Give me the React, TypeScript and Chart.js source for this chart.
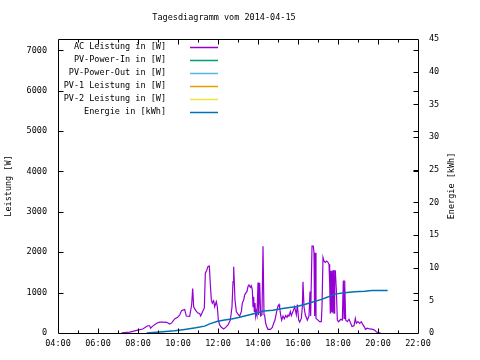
import { useEffect, useRef } from 'react';
import { Chart, registerables } from 'chart.js';

Chart.register(...registerables);

const chartTitle = 'Tagesdiagramm vom 2014-04-15';
const leftAxisTitle = 'Leistung [W]';
const rightAxisTitle = 'Energie [kWh]';

const seriesLabels = [
  'AC Leistung in [W]',
  'PV-Power-In in [W]',
  'PV-Power-Out in [W]',
  'PV-1 Leistung in [W]',
  'PV-2 Leistung in [W]',
  'Energie in [kWh]',
];
const seriesColors = ['#9400d3', '#009e73', '#56b4e9', '#e69f00', '#f0e442', '#0072b2'];

const xTickLabels = ['04:00', '06:00', '08:00', '10:00', '12:00', '14:00', '16:00', '18:00', '20:00', '22:00'];
const leftTicks = [0, 1000, 2000, 3000, 4000, 5000, 6000, 7000];
const rightTicks = [0, 5, 10, 15, 20, 25, 30, 35, 40, 45];
const xMinHour = 4;
const xMaxHour = 22;
const leftMax = 7280;
const rightMax = 45;

const acTimes = [
  '07:11', '07:35', '07:59', '08:14', '08:20', '08:29', '08:35', '08:38', '08:44', '08:56',
  '09:05', '09:14', '09:26', '09:35', '09:41', '09:50', '09:59', '10:05', '10:11', '10:20',
  '10:25', '10:35', '10:41', '10:44', '10:47', '10:53', '10:59', '11:05', '11:08', '11:14',
  '11:19', '11:22', '11:26', '11:30', '11:34', '11:37', '11:40', '11:43', '11:47', '11:50',
  '11:55', '11:58', '12:01', '12:05', '12:10', '12:17', '12:23', '12:30', '12:37', '12:42',
  '12:45', '12:47', '12:49', '12:51', '12:55', '13:00', '13:05', '13:10', '13:13', '13:17',
  '13:20', '13:23', '13:27', '13:30', '13:33', '13:37', '13:40', '13:43', '13:45', '13:47',
  '13:49', '13:51', '13:53', '13:55', '13:57', '14:00', '14:02', '14:05', '14:08', '14:12',
  '14:15', '14:18', '14:20', '14:23', '14:27', '14:30', '14:37', '14:43', '14:47', '14:51',
  '14:55', '15:00', '15:03', '15:05', '15:08', '15:11', '15:15', '15:19', '15:23', '15:27',
  '15:30', '15:33', '15:37', '15:40', '15:45', '15:50', '15:55', '15:58', '16:02', '16:05',
  '16:10', '16:13', '16:15', '16:18', '16:22', '16:28', '16:33', '16:36', '16:38', '16:42',
  '16:46', '16:48', '16:50', '16:52', '16:54', '17:00', '17:05', '17:10', '17:12', '17:15',
  '17:18', '17:22', '17:26', '17:30', '17:33', '17:35', '17:37', '17:38', '17:40', '17:42',
  '17:44', '17:46', '17:48', '17:50', '17:52', '17:55', '17:58', '18:02', '18:08', '18:13',
  '18:16', '18:18', '18:20', '18:23', '18:28', '18:33', '18:38', '18:42', '18:48', '18:52',
  '18:55', '19:00', '19:05', '19:10', '19:15', '19:20', '19:22', '19:28', '19:35', '19:45',
  '19:50', '19:55', '20:00', '20:08',
];
const acPower = [
  5, 20, 70, 100, 130, 180, 180, 120, 170, 240,
  270, 270, 265, 220, 250, 350, 390, 445, 560, 580,
  420, 410, 700, 1100, 650, 560, 500, 480, 420, 530,
  620, 1480, 1550, 1650, 1660, 1200, 820, 740, 800, 650,
  775, 650, 320, 200, 140, 100, 140, 200, 320, 650,
  1270, 1640, 1240, 815, 530, 470, 420, 530, 740, 815,
  940, 980, 1030, 1150, 1190, 1130, 1170, 1070, 650, 900,
  530, 740, 420, 530, 445, 1250, 445, 1240, 420, 450,
  2150, 450, 430, 240, 140, 90, 90, 140, 240, 320,
  490, 670, 705, 620, 445, 320, 420, 350, 430, 390,
  445, 420, 530, 430, 530, 650, 450, 705, 320, 270,
  360, 650, 1270, 650, 445, 320, 420, 1030, 420, 2150,
  2150, 1990, 420, 1990, 360, 320, 280, 280, 650, 1870,
  1780, 1750, 1780, 1750, 1700, 1240, 500, 1540, 520, 1540,
  500, 1560, 490, 1540, 1540, 1070, 320, 280, 340, 320,
  1300, 360, 1300, 320, 280, 340, 240, 160, 180, 360,
  240, 280, 240, 280, 200, 140, 90, 120, 100, 90,
  70, 30, 10, 0,
];

const energyTimes = [
  '08:26', '09:05', '09:50', '10:20', '10:53', '11:20', '11:35', '11:59', '12:20', '12:41',
  '13:05', '13:35', '13:59', '14:17', '14:44', '15:14', '15:35', '15:56', '16:20', '16:44',
  '17:11', '17:29', '17:50', '18:20', '18:50', '19:20', '19:41', '20:29',
];
const energyValues = [
  0, 0.15, 0.35, 0.55, 0.8, 1.05, 1.4, 1.8, 2.0, 2.15,
  2.4, 2.8, 3.1, 3.35, 3.5, 3.75, 3.9, 4.05, 4.35, 4.75,
  5.15, 5.5, 5.95, 6.15, 6.3, 6.4, 6.5, 6.5,
];

const FONT_FAMILY = '"DejaVu Sans Mono", monospace';
const FONT_SIZE = 8.5;
const CSS_FONT = `${FONT_SIZE}px ${FONT_FAMILY}`;

const toHours = (s: string) => {
  const [h, m] = s.split(':').map(Number);
  return h + m / 60;
};

const toPoints = (times: string[], values: number[]) =>
  times.slice(0, Math.min(times.length, values.length)).map((t, i) => ({ x: toHours(t), y: values[i] }));

const gnuplotDecor = {
  id: 'gnuplotDecor',
  afterDraw(chart: any) {
    const { ctx, chartArea: a, scales } = chart;
    ctx.save();
    ctx.strokeStyle = '#000';
    ctx.lineWidth = 1;
    const L = Math.round(a.left) + 0.5;
    const R = Math.round(a.right) + 0.5;
    const T = Math.round(a.top) + 0.5;
    const B = Math.round(a.bottom) + 0.5;
    ctx.beginPath();
    ctx.moveTo(L, T);
    ctx.lineTo(R, T);
    ctx.lineTo(R, B);
    ctx.lineTo(L, B);
    ctx.closePath();
    for (let h = xMinHour + 1; h < xMaxHour; h++) {
      const px = Math.round(scales.x.getPixelForValue(h)) + 0.5;
      const len = h % 2 === 0 ? 5 : 3;
      ctx.moveTo(px, B);
      ctx.lineTo(px, B - len);
      ctx.moveTo(px, T);
      ctx.lineTo(px, T + len);
    }
    leftTicks.forEach((v) => {
      if (v <= 0) return;
      const py = Math.round(scales.y.getPixelForValue(v)) + 0.5;
      ctx.moveTo(L, py);
      ctx.lineTo(L + 5, py);
      ctx.moveTo(R, py);
      ctx.lineTo(R - 5, py);
    });
    rightTicks.forEach((v) => {
      if (v <= 0 || v >= rightMax) return;
      const py = Math.round(scales.y1.getPixelForValue(v)) + 0.5;
      ctx.moveTo(R, py);
      ctx.lineTo(R - 5, py);
    });
    ctx.stroke();

    ctx.fillStyle = '#000';
    ctx.font = CSS_FONT;
    ctx.textBaseline = 'middle';
    ctx.textAlign = 'center';
    ctx.fillText(chartTitle, 224, 18);

    const midY = (a.top + a.bottom) / 2;
    ctx.save();
    ctx.translate(9, midY);
    ctx.rotate(-Math.PI / 2);
    ctx.fillText(leftAxisTitle, 0, 0);
    ctx.restore();
    ctx.save();
    ctx.translate(452, midY);
    ctx.rotate(-Math.PI / 2);
    ctx.fillText(rightAxisTitle, 0, 0);
    ctx.restore();

    ctx.textAlign = 'right';
    chart.data.datasets.forEach((ds: any, i: number) => {
      const y = 46.5 + 13 * i;
      ctx.fillStyle = '#000';
      ctx.fillText(ds.label, 166, y);
      ctx.strokeStyle = ds.borderColor;
      ctx.lineWidth = 1.5;
      ctx.beginPath();
      ctx.moveTo(190, Math.round(y) + 0.5);
      ctx.lineTo(218, Math.round(y) + 0.5);
      ctx.stroke();
    });
    ctx.restore();
  },
};

export default function App() {
  const canvasRef = useRef<HTMLCanvasElement>(null);

  useEffect(() => {
    const canvas = canvasRef.current;
    if (!canvas) return;
    const tickFont = { family: FONT_FAMILY, size: FONT_SIZE };
    const datasets = seriesLabels.map((label, i) => {
      const isEnergy = i === seriesLabels.length - 1;
      let data: { x: number; y: number }[] = [];
      if (i === 0) data = toPoints(acTimes, acPower);
      if (isEnergy) data = toPoints(energyTimes, energyValues);
      return {
        label,
        data,
        borderColor: seriesColors[i],
        backgroundColor: seriesColors[i],
        borderWidth: isEnergy ? 1.5 : 1.2,
        pointRadius: 0,
        tension: 0,
        fill: false,
        yAxisID: isEnergy ? 'y1' : 'y',
        order: isEnergy ? 0 : 1,
      };
    });

    const chart = new Chart(canvas, {
      type: 'line',
      data: { datasets },
      options: {
        animation: false,
        responsive: false,
        parsing: false as any,
        normalized: true,
        color: '#000',
        layout: { padding: { top: 39, left: 0, right: 0, bottom: 0 } },
        plugins: {
          legend: { display: false },
          title: { display: false },
          tooltip: { enabled: false },
        },
        scales: {
          x: {
            type: 'linear',
            min: xMinHour,
            max: xMaxHour,
            afterBuildTicks: (s: any) => {
              s.ticks = xTickLabels.map((l) => ({ value: toHours(l) }));
            },
            afterFit: (s: any) => {
              s.height = 27;
            },
            grid: { display: false, drawTicks: false },
            border: { display: false },
            ticks: {
              padding: 6,
              autoSkip: false,
              maxRotation: 0,
              color: '#000',
              font: tickFont,
              callback: (_v: any, i: number) => xTickLabels[i],
            },
          },
          y: {
            type: 'linear',
            position: 'left',
            min: 0,
            max: leftMax,
            afterBuildTicks: (s: any) => {
              s.ticks = leftTicks.map((v) => ({ value: v }));
            },
            afterFit: (s: any) => {
              s.width = 58;
            },
            grid: { display: false, drawTicks: false },
            border: { display: false },
            ticks: {
              padding: 11,
              color: '#000',
              font: tickFont,
              callback: (_v: any, i: number) => String(leftTicks[i]),
            },
          },
          y1: {
            type: 'linear',
            position: 'right',
            min: 0,
            max: rightMax,
            afterBuildTicks: (s: any) => {
              s.ticks = rightTicks.map((v) => ({ value: v }));
            },
            afterFit: (s: any) => {
              s.width = 62;
            },
            grid: { display: false, drawTicks: false },
            border: { display: false },
            ticks: {
              padding: 11,
              color: '#000',
              font: tickFont,
              callback: (_v: any, i: number) => String(rightTicks[i]),
            },
          },
        },
      },
      plugins: [gnuplotDecor],
    } as any);

    return () => chart.destroy();
  }, []);

  return (
    <div style={{ position: 'absolute', left: 0, top: 0, width: 480, height: 360, background: '#fff' }}>
      <canvas ref={canvasRef} width={480} height={360} style={{ display: 'block', width: 480, height: 360 }} />
    </div>
  );
}
